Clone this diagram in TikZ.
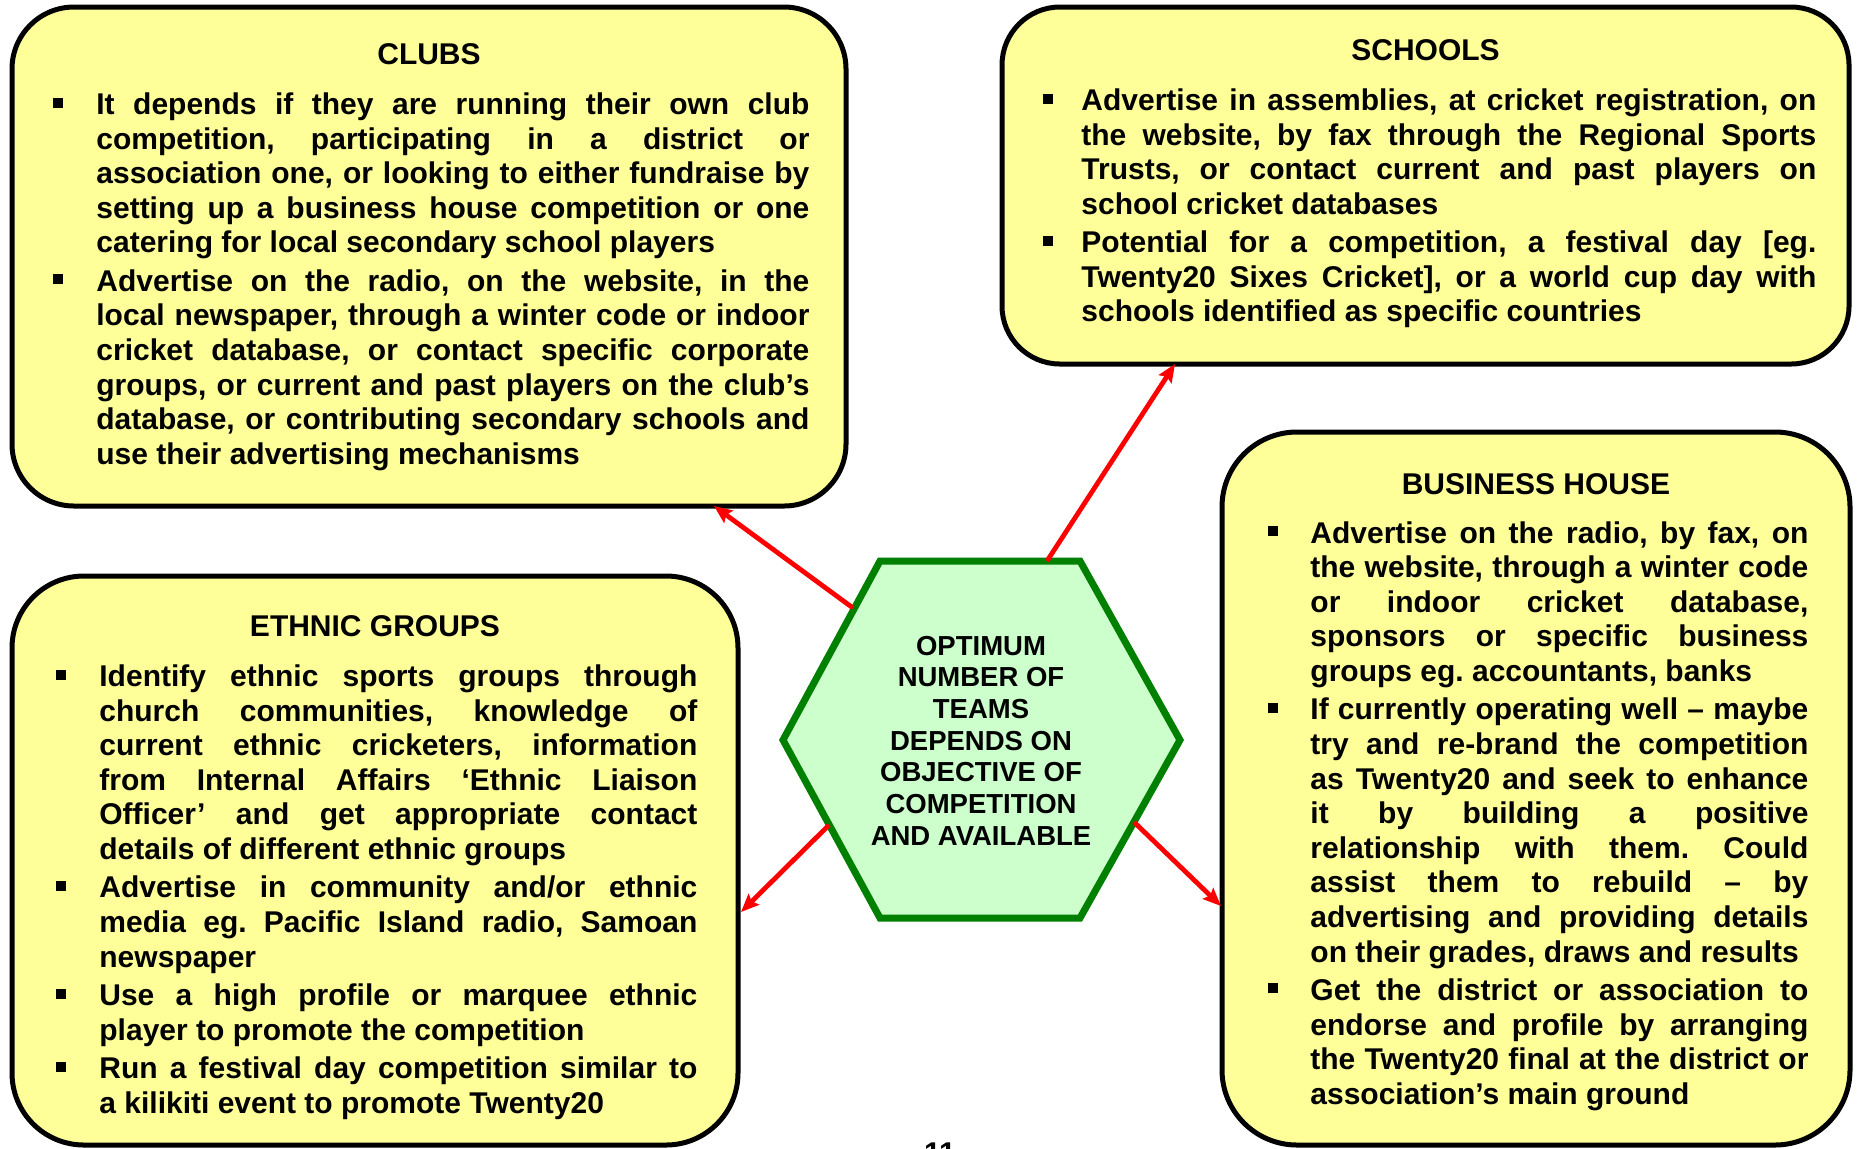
\documentclass[tikz,border=0pt]{standalone}
\usepackage{fontspec}
\setmainfont{Liberation Sans}
\usetikzlibrary{arrows.meta}
\frenchspacing
\definecolor{boxyellow}{HTML}{FFFF99}
\definecolor{hexfill}{HTML}{CCFFCC}
\definecolor{hexline}{HTML}{008000}
\newlength\bgap
\newcommand\bul{\llap{\rule[3.5pt]{5pt}{5pt}\hspace{\bgap}}}
\newcommand\jl[1]{\makebox[\linewidth][s]{#1}\\}
\newcommand\pl[1]{#1\\[1.9pt]}
\newcommand\fl[1]{#1}
\newcommand\bodyfont{\fontsize{15pt}{17.3pt}\selectfont\bfseries\frenchspacing}
\newcommand\hexfont{\fontsize{13.75pt}{15.85pt}\selectfont\bfseries}
\tikzset{
  panel/.style={draw=black, line width=2.5pt, fill=boxyellow, rounded corners=#1, inner sep=0pt, outer sep=0pt},
  ttl/.style={anchor=base, inner sep=0pt, font=\bodyfont},
  body/.style={anchor=base west, inner sep=0pt, font=\bodyfont},
  link/.style={draw=red, line width=2.4pt, -{Stealth[length=9pt,width=7.5pt,inset=1.5pt]}},
}
\begin{document}
\begin{tikzpicture}[x=0.5pt,y=-0.5pt]
\useasboundingbox (0,0) rectangle (1862,1148);
\fill[white] (0,0) rectangle (1862,1148);

% panels
\node[panel=31pt, minimum width=417pt, minimum height=249.5pt] (clubs) at (429,256.5) {};
\node[panel=29pt, minimum width=423.5pt, minimum height=178.5pt] (schools) at (1425.5,185.5) {};
\node[panel=36pt, minimum width=363pt, minimum height=284.5pt] (ethnic) at (375,860.5) {};
\node[panel=37.5pt, minimum width=314pt, minimum height=356.5pt] (business) at (1536,788.5) {};

% CLUBS
\node[ttl] (clubsT) at (429,64) {CLUBS};
\node[body] (clubsB) at (96,114.5) {\setlength\bgap{16.5pt}\parbox[t]{356.5pt}{%
\jl{\bul It depends if they are running their own club}%
\jl{competition, participating in a district or}%
\jl{association one, or looking to either fundraise by}%
\jl{setting up a business house competition or one}%
\pl{catering for local secondary school players}%
\jl{\bul Advertise on the radio, on the website, in the}%
\jl{local newspaper, through a winter code or indoor}%
\jl{cricket database, or contact specific corporate}%
\jl{groups, or current and past players on the club’s}%
\jl{database, or contributing secondary schools and}%
\fl{use their advertising mechanisms}}};

% SCHOOLS
\node[ttl] (schoolsT) at (1425.5,60) {SCHOOLS};
\node[body] (schoolsB) at (1081,110.5) {\setlength\bgap{14pt}\parbox[t]{367.5pt}{%
\jl{\bul Advertise in assemblies, at cricket registration, on}%
\jl{the website, by fax through the Regional Sports}%
\jl{Trusts, or contact current and past players on}%
\pl{school cricket databases}%
\jl{\bul Potential for a competition, a festival day [eg.}%
\jl{Twenty20 Sixes Cricket], or a world cup day with}%
\fl{schools identified as specific countries}}};

% ETHNIC GROUPS
\node[ttl] (ethnicT) at (375,636) {ETHNIC GROUPS};
\node[body] (ethnicB) at (99,686.5) {\setlength\bgap{16.5pt}\parbox[t]{299pt}{%
\jl{\bul Identify ethnic sports groups through}%
\jl{church communities, knowledge of}%
\jl{current ethnic cricketers, information}%
\jl{from Internal Affairs ‘Ethnic Liaison}%
\jl{Officer’ and get appropriate contact}%
\pl{details of different ethnic groups}%
\jl{\bul Advertise in community and/or ethnic}%
\jl{media eg. Pacific Island radio, Samoan}%
\pl{newspaper}%
\jl{\bul Use a high profile or marquee ethnic}%
\pl{player to promote the competition}%
\jl{\bul Run a festival day competition similar to}%
\fl{a kilikiti event to promote Twenty20}}};

% BUSINESS HOUSE
\node[ttl] (businessT) at (1536,494) {BUSINESS HOUSE};
\node[body] (businessB) at (1310,543) {\setlength\bgap{16pt}\parbox[t]{249pt}{%
\jl{\bul Advertise on the radio, by fax, on}%
\jl{the website, through a winter code}%
\jl{or indoor cricket database,}%
\jl{sponsors or specific business}%
\pl{groups eg. accountants, banks}%
\jl{\bul If currently operating well – maybe}%
\jl{try and re-brand the competition}%
\jl{as Twenty20 and seek to enhance}%
\jl{it by building a positive}%
\jl{relationship with them. Could}%
\jl{assist them to rebuild – by}%
\jl{advertising and providing details}%
\pl{on their grades, draws and results}%
\jl{\bul Get the district or association to}%
\jl{endorse and profile by arranging}%
\jl{the Twenty20 final at the district or}%
\fl{association’s main ground}}};

% hexagon
\draw[draw=hexline, fill=hexfill, line width=3.5pt]
  (880,561) -- (1080,561) -- (1180,740) -- (1080,918) -- (880,918) -- (783,740) -- cycle;
\node[anchor=base, inner sep=0pt, font=\hexfont] (hub) at (981,655) {\parbox[t]{210pt}{\centering
OPTIMUM\\ NUMBER OF\\ TEAMS\\ DEPENDS ON\\ OBJECTIVE OF\\ COMPETITION\\ AND AVAILABLE}};

% connectors
\coordinate (h1) at (853,608);  \coordinate (c1) at (714,506);
\coordinate (h2) at (1047,561); \coordinate (s1) at (1175,364);
\coordinate (h3) at (829,825);  \coordinate (e1) at (741,912);
\coordinate (h4) at (1134,822); \coordinate (b1) at (1221,906);
\draw[link] (h1) -- (c1);
\draw[link] (h2) -- (s1);
\draw[link] (h3) -- (e1);
\draw[link] (h4) -- (b1);

% page number (cut off at bottom, as in the source page)
\node[anchor=base, inner sep=0pt, font=\bodyfont] (pagenum) at (940,1163) {11};
\end{tikzpicture}
\end{document}
